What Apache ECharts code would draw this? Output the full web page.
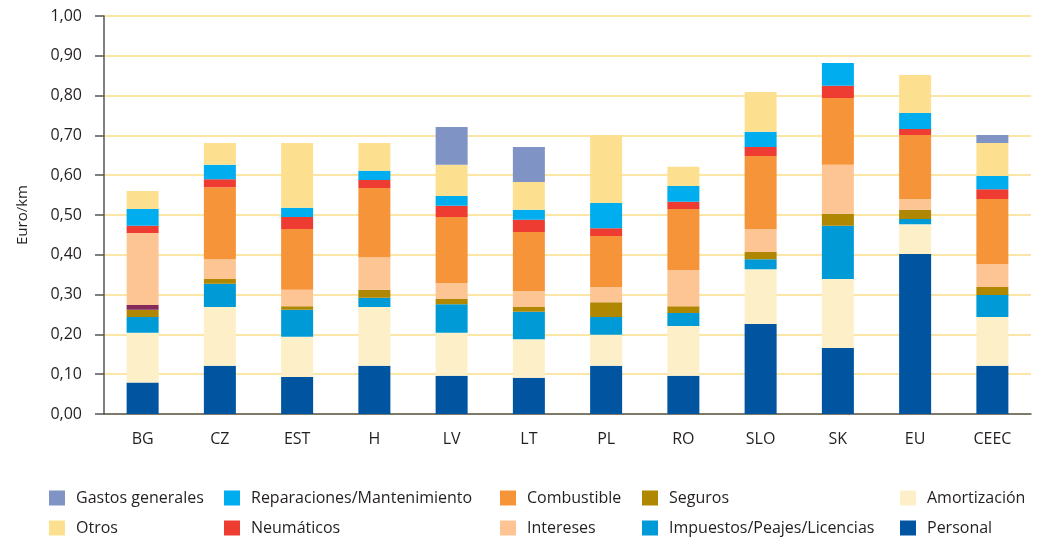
<!DOCTYPE html>
<html>
<head>
<meta charset="utf-8">
<script src="https://cdn.jsdelivr.net/npm/echarts@6/dist/echarts.min.js"></script>
<style>
  html, body { margin: 0; padding: 0; background: #fff; }
  #cost-chart { width: 1040px; height: 540px; }
</style>
</head>
<body>
<div id="cost-chart"></div>
<script>
// categorías (países)
const countries = ['BG', 'CZ', 'EST', 'H', 'LV', 'LT', 'PL', 'RO', 'SLO', 'SK', 'EU', 'CEEC'];

// valores en euro/km por componente, de abajo hacia arriba
const personal      = [0.079, 0.121, 0.093, 0.121, 0.096, 0.091, 0.121, 0.096, 0.226, 0.166, 0.402, 0.121];
const amortizacion  = [0.125, 0.148, 0.101, 0.148, 0.108, 0.097, 0.078, 0.125, 0.138, 0.173, 0.075, 0.123];
const impuestos     = [0.040, 0.058, 0.068, 0.023, 0.072, 0.069, 0.045, 0.033, 0.025, 0.134, 0.013, 0.055];
const seguros       = [0.018, 0.012, 0.009, 0.020, 0.013, 0.012, 0.037, 0.017, 0.018, 0.030, 0.023, 0.020];
const sinNombre     = [0.012, 0, 0, 0, 0, 0, 0, 0, 0, 0, 0, 0];
const intereses     = [0.181, 0.050, 0.041, 0.082, 0.040, 0.040, 0.038, 0.091, 0.058, 0.123, 0.027, 0.058];
const combustible   = [0, 0.181, 0.153, 0.174, 0.166, 0.148, 0.128, 0.153, 0.183, 0.168, 0.161, 0.163];
const neumaticos    = [0.018, 0.020, 0.030, 0.020, 0.028, 0.031, 0.020, 0.018, 0.023, 0.031, 0.015, 0.025];
const reparaciones  = [0.042, 0.036, 0.023, 0.023, 0.025, 0.025, 0.063, 0.040, 0.038, 0.057, 0.040, 0.033];
const otros         = [0.045, 0.055, 0.163, 0.070, 0.078, 0.070, 0.171, 0.048, 0.100, 0, 0.096, 0.083];
const gastosGen     = [0, 0, 0, 0, 0.095, 0.088, 0, 0, 0, 0, 0, 0.020];

const yTicks = { min: 0, max: 1, interval: 0.1 };

const textColor = '#231f20';
const fontName = 'Open Sans';

function barSeries(name, data, color) {
  return {
    name: name,
    type: 'bar',
    stack: 'total',
    barWidth: 32,
    data: data,
    itemStyle: { color: color },
    emphasis: { disabled: true }
  };
}

// leyenda: 5 columnas de 2 filas
function legendColumn(left, names) {
  return {
    orient: 'vertical',
    left: left,
    top: 490,
    padding: 0,
    itemGap: 14,
    itemWidth: 16,
    itemHeight: 15,
    icon: 'rect',
    selectedMode: false,
    data: names,
    textStyle: { fontFamily: fontName, fontSize: 16, color: textColor, padding: [0, 0, 0, 6] }
  };
}

const chart = echarts.init(document.getElementById('cost-chart'));

const option = {
  animation: false,
  textStyle: { fontFamily: fontName },
  grid: { left: 104, right: 9, top: 16, bottom: 126 },
  legend: [
    legendColumn(49, ['Gastos generales', 'Otros']),
    legendColumn(224, ['Reparaciones/Mantenimiento', 'Neumáticos']),
    legendColumn(500, ['Combustible', 'Intereses']),
    legendColumn(642, ['Seguros', 'Impuestos/Peajes/Licencias']),
    legendColumn(900, ['Amortización', 'Personal'])
  ],
  xAxis: {
    type: 'category',
    data: countries,
    axisLine: { lineStyle: { color: '#555', width: 1.5 } },
    axisTick: { length: 10, lineStyle: { color: '#555', width: 1.5 } },
    axisLabel: { margin: 17, fontSize: 16, color: textColor, fontFamily: fontName }
  },
  yAxis: {
    type: 'value',
    min: yTicks.min,
    max: yTicks.max,
    interval: yTicks.interval,
    name: 'Euro/km',
    nameLocation: 'middle',
    nameRotate: 90,
    nameGap: 74,
    nameTextStyle: { fontSize: 15, color: textColor, fontFamily: fontName },
    axisLine: { show: true, lineStyle: { color: '#555', width: 1.5 } },
    axisTick: { show: true, length: 9, lineStyle: { color: '#555', width: 1.5 } },
    axisLabel: {
      margin: 22,
      fontSize: 16,
      color: textColor,
      fontFamily: fontName,
      formatter: v => v.toFixed(2).replace('.', ',')
    },
    splitLine: { show: true, lineStyle: { color: '#fce6a6', width: 2 } }
  },
  series: [
    barSeries('Personal', personal, '#0054a0'),
    barSeries('Amortización', amortizacion, '#fdefc8'),
    barSeries('Impuestos/Peajes/Licencias', impuestos, '#009bd7'),
    barSeries('Seguros', seguros, '#b08700'),
    barSeries('', sinNombre, '#85295a'),
    barSeries('Intereses', intereses, '#fdc593'),
    barSeries('Combustible', combustible, '#f6943a'),
    barSeries('Neumáticos', neumaticos, '#ee3c32'),
    barSeries('Reparaciones/Mantenimiento', reparaciones, '#00adee'),
    barSeries('Otros', otros, '#fde08f'),
    barSeries('Gastos generales', gastosGen, '#8093c5')
  ]
};

chart.setOption(option);
</script>
</body>
</html>
